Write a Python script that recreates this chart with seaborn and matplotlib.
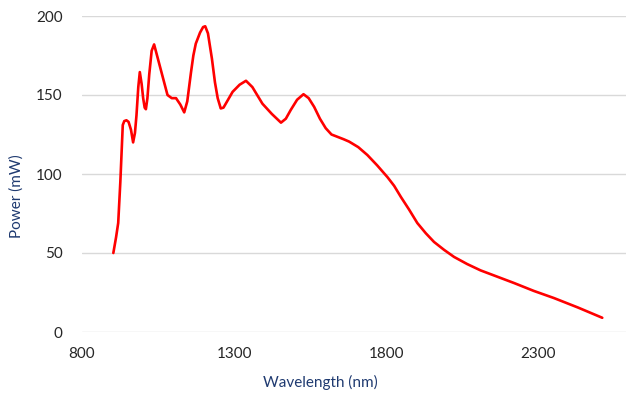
import matplotlib
matplotlib.use("Agg")
import matplotlib.pyplot as plt
import seaborn as sns
import pandas as pd

wavelength = [903, 912, 919, 926, 934, 939, 946, 953, 961, 968, 974, 979, 985, 990, 996, 1001,
              1006, 1010, 1015, 1021, 1029, 1037, 1048, 1059, 1070, 1081, 1095, 1109, 1123,
              1136, 1146, 1158, 1166, 1174, 1188, 1198, 1205, 1214, 1227, 1237, 1246, 1256,
              1265, 1280, 1295, 1318, 1339, 1360, 1393, 1424, 1454, 1470, 1486, 1507, 1528,
              1545, 1563, 1582, 1601, 1620, 1640, 1660, 1678, 1708, 1738, 1770, 1804, 1826,
              1848, 1875, 1902, 1930, 1957, 1990, 2023, 2066, 2110, 2165, 2220, 2285, 2351,
              2430, 2510]
power = [50, 60, 69, 95, 131, 133.5, 134, 133, 128, 120, 126, 137, 155, 164.5, 157, 148,
         142, 141, 148, 163, 178, 182, 174, 166, 158, 150, 148, 148, 144,
         139, 146, 164, 175, 182.5, 189.5, 193, 193.5, 189, 173, 158, 148, 141.5,
         142, 147, 152, 156.5, 159, 155, 144.5, 138, 132.5, 135, 140.5, 147, 150.5,
         148, 142.5, 135, 129, 125, 123.5, 122, 120.5, 117, 112, 105.5, 98, 92.5,
         85.5, 77.5, 69, 62.5, 57, 52, 47.5, 43, 39, 35, 31, 26, 21.5,
         15.5, 9]

df = pd.DataFrame({"Wavelength (nm)": wavelength, "Power (mW)": power})

sns.set_theme(style="white")
plt.rcParams["font.family"] = ["Lato", "DejaVu Sans"]

fig = plt.figure(figsize=(6.26, 3.97), dpi=100)
ax = fig.add_axes([82 / 626, 1 - 332 / 397, 544 / 626, 316 / 397])

sns.lineplot(data=df, x="Wavelength (nm)", y="Power (mW)", ax=ax,
             color="#FF0000", linewidth=1.9, sort=False)

ax.set_xlim(800, 2588)
ax.set_ylim(0, 200)
ax.set_xticks([800, 1300, 1800, 2300])
ax.set_yticks([0, 50, 100, 150, 200])
ax.yaxis.grid(True, color="#D9D9D9", linewidth=1.0)
ax.xaxis.grid(False)
for s in ax.spines.values():
    s.set_visible(False)
ax.tick_params(axis="both", length=0, labelsize=11, labelcolor="#262626")
ax.tick_params(axis="x", pad=11)
ax.tick_params(axis="y", pad=14)

ax.set_xlabel("Wavelength (nm)", fontsize=11, color="#1F3A70")
ax.set_ylabel("Power (mW)", fontsize=11, color="#1F3A70")
ax.xaxis.set_label_coords((320 - 82) / 544, -(375 - 332) / 316)
ax.yaxis.set_label_coords((24 - 82) / 544, (332 - 196) / 316)

fig.savefig("out.png", dpi=100)
